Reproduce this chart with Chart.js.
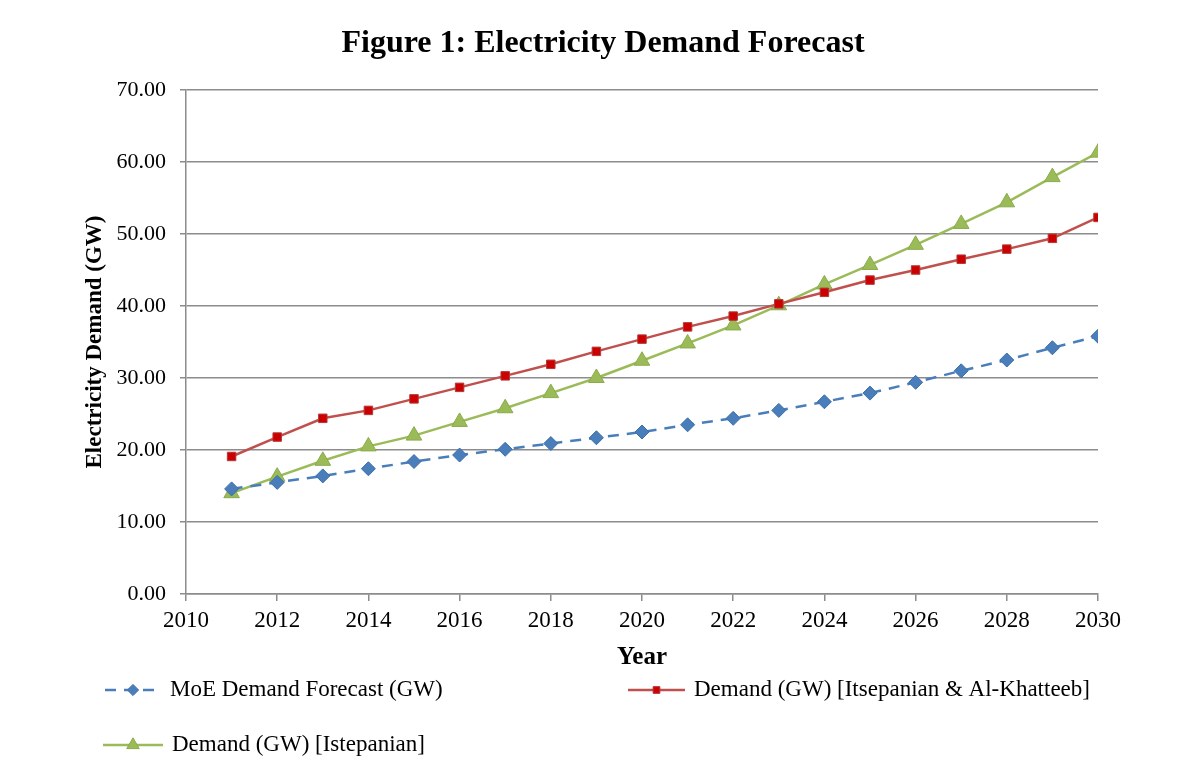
<!DOCTYPE html>
<html>
<head>
<meta charset="utf-8">
<script src="https://cdn.jsdelivr.net/npm/chart.js@4.4.1/dist/chart.umd.min.js"></script>
<style>
  html, body { margin: 0; padding: 0; background: #fff; }
  #wrap { width: 1200px; height: 781px; position: relative; }
</style>
</head>
<body>
<div id="wrap"><canvas id="chart"></canvas></div>
<script>
const years = [2011, 2012, 2013, 2014, 2015, 2016, 2017, 2018, 2019, 2020,
               2021, 2022, 2023, 2024, 2025, 2026, 2027, 2028, 2029, 2030];
const moeForecast = [14.6, 15.5, 16.4, 17.4, 18.4, 19.3, 20.1, 20.9, 21.7, 22.5,
                     23.5, 24.4, 25.5, 26.7, 27.9, 29.4, 31.0, 32.5, 34.2, 35.8];
const itsepanianKhatteeb = [19.1, 21.8, 24.4, 25.5, 27.1, 28.7, 30.3, 31.9, 33.7, 35.4,
                            37.1, 38.6, 40.3, 41.9, 43.6, 45.0, 46.5, 47.9, 49.4, 52.3];
const istepanian = [14.0, 16.3, 18.5, 20.5, 22.0, 23.9, 25.8, 27.9, 30.0, 32.4,
                    34.8, 37.3, 40.1, 43.0, 45.7, 48.5, 51.4, 54.4, 57.9, 61.3];
const seriesNames = ['MoE Demand Forecast (GW)', 'Demand (GW) [Itsepanian & Al-Khatteeb]', 'Demand (GW) [Istepanian]'];

const SERIF = '"Liberation Serif", "Times New Roman", serif';
const toPoints = vals => vals.map((v, i) => ({ x: years[i], y: v }));

// Title and legend painted straight on the canvas
const decorPlugin = {
    id: 'decor',
    afterDraw(chart) {
        const ctx = chart.ctx;
        ctx.save();
        ctx.fillStyle = '#000';
        ctx.textAlign = 'center';
        ctx.textBaseline = 'middle';
        ctx.font = 'bold 32px ' + SERIF;
        ctx.fillText('Figure 1: Electricity Demand Forecast', 603, 44);

        const items = [
            { x: 105, y: 690, len: 56, ds: chart.data.datasets[0] },
            { x: 628, y: 690, len: 57, ds: chart.data.datasets[1] },
            { x: 103, y: 745, len: 60, ds: chart.data.datasets[2] }
        ];
        ctx.font = '23px ' + SERIF;
        ctx.textAlign = 'left';
        items.forEach(it => {
            const ds = it.ds;
            ctx.strokeStyle = ds.borderColor;
            ctx.lineWidth = 2.5;
            ctx.setLineDash(ds.borderDash || []);
            ctx.beginPath();
            ctx.moveTo(it.x, it.y);
            ctx.lineTo(it.x + it.len, it.y);
            ctx.stroke();
            ctx.setLineDash([]);
            drawMarker(ctx, ds.pointStyle, it.x + it.len / 2, it.y, ds.pointRadius * 0.8, ds.pointBackgroundColor, ds.pointBorderColor);
            ctx.fillStyle = '#000';
            ctx.fillText(ds.label, it.x + it.len + 9, it.y);
        });
        ctx.restore();
    }
};

function drawMarker(ctx, style, x, y, r, fill, stroke) {
    ctx.fillStyle = fill;
    ctx.strokeStyle = stroke;
    ctx.lineWidth = 1;
    ctx.beginPath();
    if (style === 'rectRot') {
        ctx.moveTo(x, y - r); ctx.lineTo(x + r, y); ctx.lineTo(x, y + r); ctx.lineTo(x - r, y);
    } else if (style === 'rect') {
        const s = r * 0.7;
        ctx.rect(x - s, y - s, 2 * s, 2 * s);
    } else {
        ctx.moveTo(x, y - r); ctx.lineTo(x + r * 0.87, y + r * 0.5); ctx.lineTo(x - r * 0.87, y + r * 0.5);
    }
    ctx.closePath();
    ctx.fill();
    ctx.stroke();
}

new Chart(document.getElementById('chart'), {
    type: 'line',
    data: {
        datasets: [
            {
                label: seriesNames[0],
                data: toPoints(moeForecast),
                borderColor: '#4a7ebb',
                borderWidth: 2.5,
                borderDash: [11, 8],
                pointStyle: 'rectRot',
                pointRadius: 7,
                pointBackgroundColor: '#4a7ebb',
                pointBorderColor: '#3c6ea8',
                pointBorderWidth: 1
            },
            {
                label: seriesNames[1],
                data: toPoints(itsepanianKhatteeb),
                borderColor: '#c0504d',
                borderWidth: 2.5,
                pointStyle: 'rect',
                pointRadius: 6,
                pointBackgroundColor: '#cc0000',
                pointBorderColor: '#b03a38',
                pointBorderWidth: 1
            },
            {
                label: seriesNames[2],
                data: toPoints(istepanian),
                borderColor: '#9bbb59',
                borderWidth: 2.5,
                pointStyle: 'triangle',
                pointRadius: 9,
                pointBackgroundColor: '#9bbb59',
                pointBorderColor: '#8aab4a',
                pointBorderWidth: 1
            }
        ]
    },
    options: {
        responsive: true,
        maintainAspectRatio: false,
        animation: false,
        layout: { padding: { left: 70, right: 102, top: 90, bottom: 108 } },
        plugins: {
            legend: { display: false },
            tooltip: { enabled: false }
        },
        scales: {
            x: {
                type: 'linear',
                min: 2010,
                max: 2030,
                afterFit: s => { s.height = 79; },
                ticks: {
                    stepSize: 2,
                    color: '#000',
                    padding: 6,
                    maxRotation: 0,
                    font: { family: SERIF, size: 23 },
                    callback: v => String(v)
                },
                grid: { drawOnChartArea: false, drawTicks: true, tickLength: 7, color: '#8c8c8c', lineWidth: 1.5 },
                border: { color: '#8c8c8c', width: 1.5 },
                title: {
                    display: true,
                    text: 'Year',
                    color: '#000',
                    font: { family: SERIF, size: 25, weight: 'bold' },
                    padding: { top: 0, bottom: 0 }
                }
            },
            y: {
                min: 0,
                max: 70,
                afterFit: s => { s.width = 116; },
                ticks: {
                    stepSize: 10,
                    color: '#000',
                    padding: 14,
                    font: { family: SERIF, size: 22 },
                    callback: v => v.toFixed(2)
                },
                grid: { color: '#8c8c8c', lineWidth: 1.5, tickLength: 6 },
                border: { color: '#8c8c8c', width: 1.5 },
                title: {
                    display: true,
                    text: 'Electricity Demand (GW)',
                    color: '#000',
                    font: { family: SERIF, size: 23, weight: 'bold' },
                    padding: { top: 11, bottom: 0 }
                }
            }
        }
    },
    plugins: [decorPlugin]
});
</script>
</body>
</html>
